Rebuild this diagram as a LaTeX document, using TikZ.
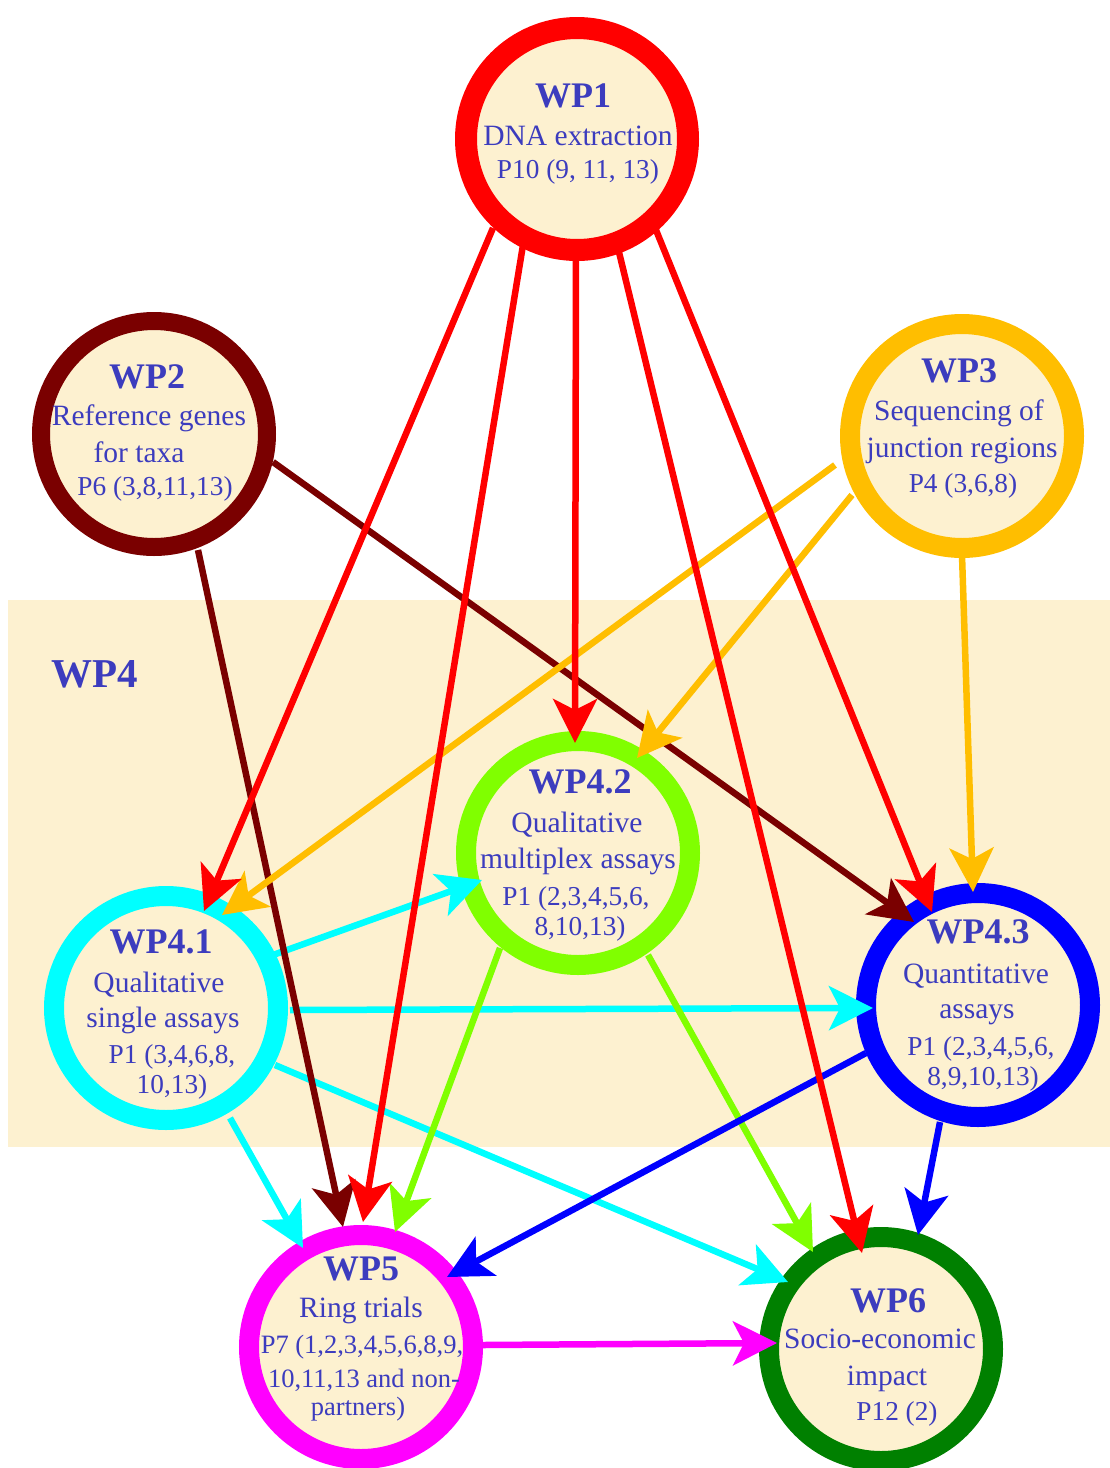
\documentclass[tikz,border=0pt]{standalone}
\usepackage{fontspec}
\setmainfont{Liberation Serif}
\usetikzlibrary{arrows.meta,calc}
\definecolor{txt}{RGB}{60,60,190}
\definecolor{bgc}{RGB}{253,241,208}
\definecolor{cred}{RGB}{255,0,0}
\definecolor{cmaroon}{RGB}{122,0,0}
\definecolor{corange}{RGB}{255,190,0}
\definecolor{ccyan}{RGB}{0,255,255}
\definecolor{clime}{RGB}{128,255,0}
\definecolor{cblue}{RGB}{0,0,255}
\definecolor{cmag}{RGB}{255,0,255}
\definecolor{cgreen}{RGB}{0,128,0}
\begin{document}
\begin{tikzpicture}[x=1pt,y=-1pt,
  wpc/.style={circle, draw=#1, line width=20pt, fill=bgc, minimum size=224pt, inner sep=0pt},
  arr/.style={draw=#1, line width=6.5pt, -{Stealth[length=44pt,width=44pt,inset=11pt]}},
  ttl/.style={anchor=base, inner sep=0pt, text=txt, font=\fontsize{36}{40}\selectfont\bfseries},
  bdy/.style={anchor=base, inner sep=0pt, text=txt, font=\fontsize{29.5}{34}\selectfont},
  pln/.style={anchor=base, inner sep=0pt, text=txt, font=\fontsize{27.3}{32}\selectfont},
  sml/.style={anchor=base, inner sep=0pt, text=txt, font=\fontsize{26.5}{31}\selectfont},
]
\useasboundingbox (0,0) rectangle (1110,1468);
\fill[white] (0,0) rectangle (1110,1468);
% WP4 band
\fill[bgc] (8,600) rectangle (1110,1147);
\node[anchor=base, inner sep=0pt, text=txt, font=\fontsize{41}{46}\selectfont\bfseries] (wp4lbl) at (95,687) {WP4};

% circles
\node[wpc=cred, line width=22pt, minimum size=222pt] (wp1) at (577,139) {};
\node[wpc=cmaroon, minimum size=226pt, line width=18pt] (wp2) at (154,434) {};
\node[wpc=corange] (wp3) at (962,436) {};
\node[wpc=ccyan] (wp41) at (166,1008) {};
\node[wpc=clime] (wp42) at (578,853) {};
\node[wpc=cblue] (wp43) at (978,1005) {};
\node[wpc=cmag] (wp5) at (361,1347) {};
\node[wpc=cgreen] (wp6) at (881,1349) {};

% arrows
\draw[arr=ccyan] ($(wp41)+(107,-53)$) -- ($(wp42)+(-96,27)$);
\draw[arr=ccyan] ($(wp41)+(124,2)$) -- ($(wp43)+(-105,3)$);
\draw[arr=ccyan] ($(wp41)+(109,57)$) -- ($(wp6)+(-93,-67)$);
\draw[arr=ccyan] ($(wp41)+(64,110)$) -- ($(wp5)+(-58,-99)$);
\draw[arr=clime] ($(wp42)+(-78,95)$) -- ($(wp5)+(34,-115)$);
\draw[arr=clime] ($(wp42)+(70,102)$) -- ($(wp6)+(-68,-97)$);
\draw[arr=cblue] ($(wp43)+(-112,48)$) -- ($(wp5)+(86,-70)$);
\draw[arr=cblue] ($(wp43)+(-38,117)$) -- ($(wp6)+(37,-114)$);
\draw[arr=cmag] ($(wp5)+(122,-2)$) -- ($(wp6)+(-104,-6)$);
\draw[arr=cmaroon] ($(wp2)+(119,28)$) -- ($(wp43)+(-64,-83)$);
\draw[arr=cmaroon] ($(wp2)+(44,116)$) -- ($(wp5)+(-18,-120)$);
\draw[arr=corange] ($(wp3)+(-127,29)$) -- ($(wp41)+(56,-93)$);
\draw[arr=corange] ($(wp3)+(-110,59)$) -- ($(wp42)+(59,-95)$);
\draw[arr=corange] ($(wp3)+(0,119)$) -- ($(wp43)+(-5,-113)$);
\draw[arr=cred] ($(wp1)+(-84,89)$) -- ($(wp41)+(38,-97)$);
\draw[arr=cred] ($(wp1)+(-54,106)$) -- ($(wp5)+(2,-125)$);
\draw[arr=cred] ($(wp1)+(-1,116)$) -- ($(wp42)+(-3,-110)$);
\draw[arr=cred] ($(wp1)+(41,109)$) -- ($(wp6)+(-19,-96)$);
\draw[arr=cred] ($(wp1)+(79,91)$) -- ($(wp43)+(-46,-93)$);

% texts
\node[ttl] (wp1t) at (573,107) {WP1};
\node[bdy] (wp1a) at (578,145) {DNA extraction};
\node[pln] (wp1b) at (578,178) {P10 (9, 11, 13)};

\node[ttl] (wp2t) at (147,388) {WP2};
\node[bdy] (wp2a) at (149,425) {Reference genes};
\node[bdy] (wp2b) at (139,462) {for taxa};
\node[pln] (wp2c) at (155,495) {P6 (3,8,11,13)};

\node[ttl] (wp3t) at (959,382) {WP3};
\node[bdy] (wp3a) at (959,420) {Sequencing of};
\node[bdy] (wp3b) at (962,457) {junction regions};
\node[pln] (wp3c) at (963,492) {P4 (3,6,8)};

\node[ttl] (wp41t) at (161,953) {WP4.1};
\node[bdy] (wp41a) at (159,992) {Qualitative};
\node[bdy] (wp41b) at (163,1027) {single assays};
\node[pln] (wp41c) at (172,1063) {P1 (3,4,6,8,};
\node[pln] (wp41d) at (172,1093) {10,13)};

\node[ttl] (wp42t) at (580,793) {WP4.2};
\node[bdy] (wp42a) at (577,832) {Qualitative};
\node[bdy] (wp42b) at (578,868) {multiplex assays};
\node[pln] (wp42c) at (576,905) {P1 (2,3,4,5,6,};
\node[pln] (wp42d) at (580,935) {8,10,13)};

\node[ttl] (wp43t) at (978,943) {WP4.3};
\node[bdy] (wp43a) at (976,983) {Quantitative};
\node[bdy] (wp43b) at (977,1018) {assays};
\node[pln] (wp43c) at (981,1055) {P1 (2,3,4,5,6,};
\node[pln] (wp43d) at (983,1085) {8,9,10,13)};

\node[ttl] (wp5t) at (361,1280) {WP5};
\node[bdy] (wp5a) at (361,1317) {Ring trials};
\node[sml] (wp5b) at (362,1353) {P7 (1,2,3,4,5,6,8,9,};
\node[sml] (wp5c) at (364,1387) {10,11,13 and non-};
\node[sml] (wp5d) at (358,1415) {partners)};

\node[ttl] (wp6t) at (888,1312) {WP6};
\node[bdy] (wp6a) at (880,1348) {Socio-economic};
\node[bdy] (wp6b) at (887,1385) {impact};
\node[pln] (wp6c) at (897,1420) {P12 (2)};
\end{tikzpicture}
\end{document}
